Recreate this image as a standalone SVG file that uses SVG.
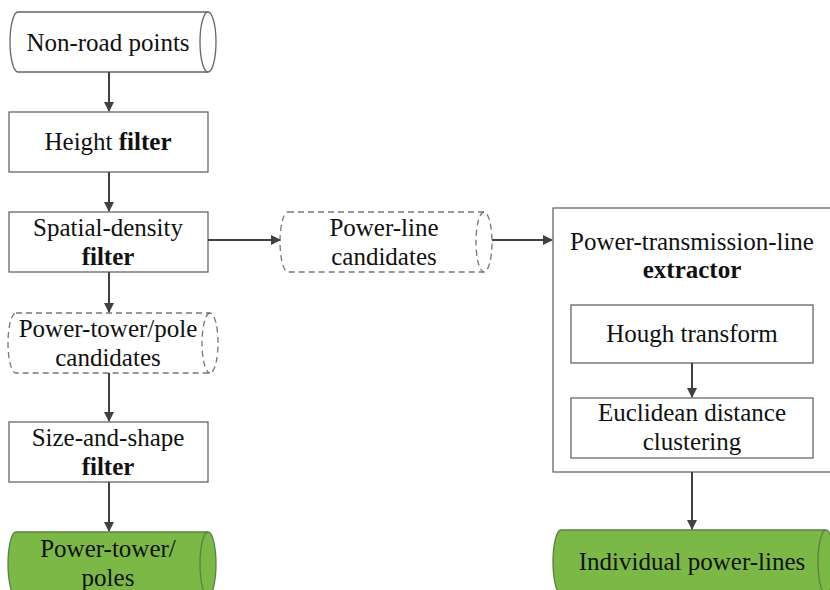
<svg xmlns="http://www.w3.org/2000/svg" width="830" height="590" viewBox="0 0 830 590">
<defs>
<marker id="ah" markerWidth="10" markerHeight="10" refX="9" refY="5" orient="auto" markerUnits="userSpaceOnUse">
<path d="M0,0 L10,5 L0,10 Z" fill="#404040"/>
</marker>
<style>
.box{fill:#fff;stroke:#666;stroke-width:1.3}
.cyl{fill:#fff;stroke:#666;stroke-width:1.3}
.dash{fill:#fff;stroke:#777;stroke-width:1.3;stroke-dasharray:6 4}
.green{fill:#7cb846;stroke:#5e7f45;stroke-width:1.3}
.t{font-family:"Liberation Serif",Tinos,"Times New Roman",Times,"Nimbus Roman",FreeSerif,"Noto Serif","DejaVu Serif",serif;font-size:25px;fill:#111;text-anchor:middle}
.b{font-weight:bold}
.c{stroke:#404040;stroke-width:2;fill:none;marker-end:url(#ah)}
</style>
</defs>
<rect width="830" height="590" fill="#fff"/>
<g id="nonroad">
<path class="cyl" d="M18,12 L208,12 A8,30 0 0 1 208,72 L18,72 A8,30 0 0 1 18,12 Z"/>
<path class="cyl" d="M208,12 A8,30 0 0 0 208,72"/>
<text class="t" x="108" y="51">Non-road points</text>
</g>
<g id="height">
<rect class="box" x="9" y="112" width="199" height="60"/>
<text class="t" x="108" y="150">Height <tspan class="b">filter</tspan></text>
</g>
<g id="spatial">
<rect class="box" x="9" y="212" width="199" height="60"/>
<text class="t" x="108" y="236">Spatial-density</text>
<text class="t b" x="108" y="265">filter</text>
</g>
<g id="plc">
<path class="dash" d="M288,212 L484,212 A8,30 0 0 1 484,272 L288,272 A8,30 0 0 1 288,212 Z"/>
<path class="dash" d="M484,212 A8,30 0 0 0 484,272"/>
<text class="t" x="384" y="236">Power-line</text>
<text class="t" x="384" y="265">candidates</text>
</g>
<g id="ptc">
<path class="dash" d="M16,313 L210,313 A8,30 0 0 1 210,373 L16,373 A8,30 0 0 1 16,313 Z"/>
<path class="dash" d="M210,313 A8,30 0 0 0 210,373"/>
<text class="t" x="108" y="337">Power-tower/pole</text>
<text class="t" x="108" y="366">candidates</text>
</g>
<g id="size">
<rect class="box" x="9" y="422" width="199" height="60"/>
<text class="t" x="108" y="446">Size-and-shape</text>
<text class="t b" x="108" y="475">filter</text>
</g>
<g id="poles">
<path class="green" d="M16,532 L208,532 A8,32 0 0 1 208,596 L16,596 A8,32 0 0 1 16,532 Z"/>
<path class="green" d="M208,532 A8,32 0 0 0 208,596"/>
<text class="t" x="108" y="557">Power-tower/</text>
<text class="t" x="108" y="586">poles</text>
</g>
<g id="extractor">
<rect class="box" x="553" y="208" width="278" height="264"/>
<text class="t" x="692" y="250">Power-transmission-line</text>
<text class="t b" x="692" y="278">extractor</text>
</g>
<g id="hough">
<rect class="box" x="571" y="305" width="242" height="58"/>
<text class="t" x="692" y="342">Hough transform</text>
</g>
<g id="euclid">
<rect class="box" x="571" y="398" width="242" height="60"/>
<text class="t" x="692" y="421">Euclidean distance</text>
<text class="t" x="692" y="450">clustering</text>
</g>
<g id="individual">
<path class="green" d="M561,530 L826,530 A8,32 0 0 1 826,594 L561,594 A8,32 0 0 1 561,530 Z"/>
<path class="green" d="M826,530 A8,32 0 0 0 826,594"/>
<text class="t" x="692" y="570">Individual power-lines</text>
</g>
<g id="connectors">
<path class="c" d="M109,72 L109,111"/>
<path class="c" d="M109,172 L109,211"/>
<path class="c" d="M208,240 L280,240"/>
<path class="c" d="M492,240 L552,240"/>
<path class="c" d="M109,272 L109,312"/>
<path class="c" d="M109,373 L109,421"/>
<path class="c" d="M109,482 L109,531"/>
<path class="c" d="M692,363 L692,397"/>
<path class="c" d="M692,472 L692,529"/>
</g>
</svg>
